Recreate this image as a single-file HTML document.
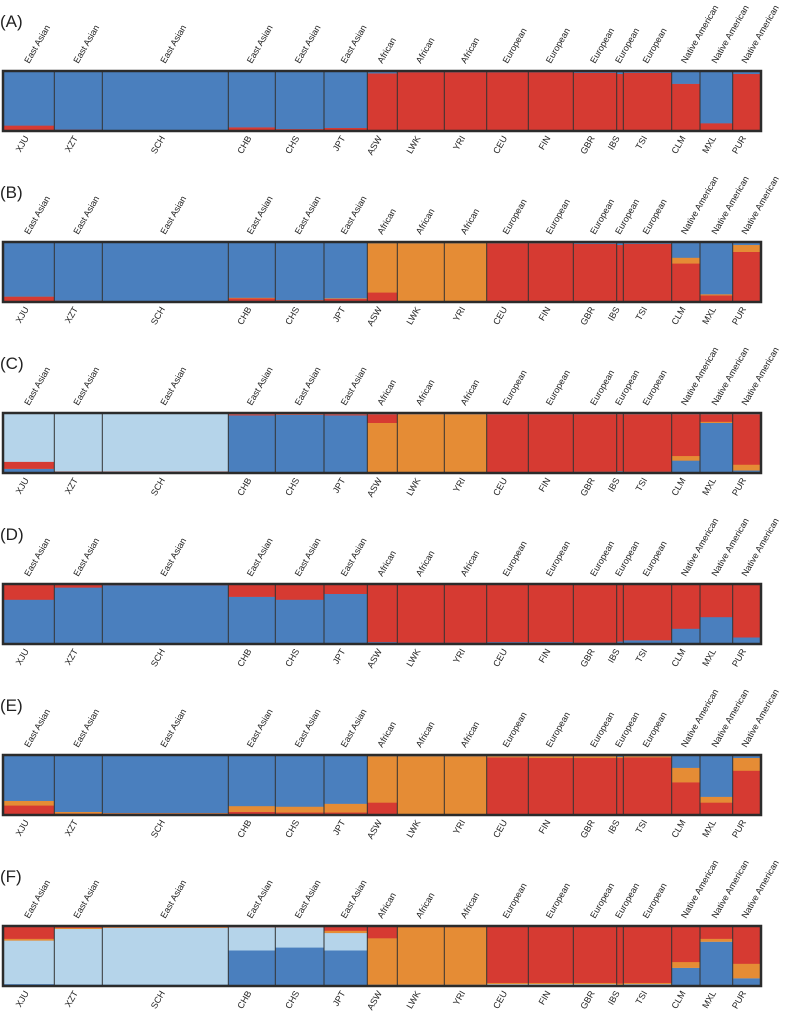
<!DOCTYPE html>
<html><head><meta charset="utf-8"><style>
body{margin:0;background:#fff}
svg{display:block;font-family:"Liberation Sans",sans-serif}
</style></head><body>
<svg id="c" width="787" height="1020" xmlns="http://www.w3.org/2000/svg"></svg>
<script>
const pops=["XJU","XZT","SCH","CHB","CHS","JPT","ASW","LWK","YRI","CEU","FIN","GBR","IBS","TSI","CLM","MXL","PUR"];
const groups=["East Asian","East Asian","East Asian","East Asian","East Asian","East Asian","African","African","African","European","European","European","European","European","Native American","Native American","Native American"];
const popBounds=[4,54.3,102.3,228.3,275.3,324,367.3,397.3,444.3,486.7,528.3,573.3,616.7,623.3,671.7,700,732.7,760];
const panelLetters=["(A)","(B)","(C)","(D)","(E)","(F)"];
const colors={blue:"#4a7fbe",light:"#b5d4ea",orange:"#e58c35",red:"#d63a32"};
const panelOrder=[
 ["red","blue"],
 ["red","orange","blue"],
 ["blue","orange","red","light"],
 ["blue","red"],
 ["red","orange","blue"],
 ["blue","light","orange","red"]
];
const A_red =[0.08,0.01,0.005,0.05,0.02,0.04,0.98,1,1,1,1,0.99,0.97,0.99,0.8,0.12,0.97];
const A_blue=[0.92,0.99,0.995,0.95,0.98,0.96,0.02,0,0,0,0,0.01,0.03,0.01,0.2,0.88,0.03];
const B_red =[0.08,0.01,0.005,0.05,0.02,0.04,0.15,0,0,1,1,0.99,0.97,0.99,0.65,0.1,0.85];
const B_orange=[0,0,0,0.01,0,0.01,0.85,1,1,0,0,0,0,0,0.1,0.02,0.12];
const B_blue=[0.92,0.99,0.995,0.94,0.98,0.95,0,0,0,0,0,0.01,0.03,0.01,0.25,0.88,0.03];
const C_blue=[0.06,0.01,0.01,0.98,0.99,0.98,0,0,0,0,0,0.01,0.02,0.01,0.2,0.85,0.03];
const C_orange=[0,0,0,0,0,0,0.85,1,1,0,0,0,0,0,0.08,0.02,0.1];
const C_red=[0.12,0.005,0.005,0.02,0.01,0.02,0.15,0,0,1,1,0.99,0.98,0.99,0.72,0.13,0.87];
const C_light=[0.82,0.985,0.985,0,0,0,0,0,0,0,0,0,0,0,0,0,0];
const D_blue=[0.75,0.96,1,0.8,0.75,0.85,0.02,0.01,0.01,0.02,0.02,0.01,0.03,0.05,0.25,0.45,0.1];
const D_red=[0.25,0.04,0,0.2,0.25,0.15,0.98,0.99,0.99,0.98,0.98,0.99,0.97,0.95,0.75,0.55,0.9];
const E_red=[0.15,0.01,0.01,0.04,0.03,0.03,0.2,0,0,0.98,0.97,0.97,0.97,0.98,0.55,0.2,0.75];
const E_orange=[0.08,0.03,0.01,0.1,0.1,0.15,0.8,1,1,0.02,0.03,0.03,0.02,0.02,0.25,0.1,0.22];
const E_blue=[0.77,0.96,0.98,0.86,0.87,0.82,0,0,0,0,0,0,0.01,0,0.2,0.7,0.03];
const F_blue=[0.02,0.01,0.01,0.6,0.65,0.6,0.01,0.01,0.01,0,0,0,0,0.01,0.3,0.75,0.12];
const F_light=[0.75,0.96,0.98,0.4,0.35,0.3,0,0,0,0.02,0.02,0.02,0.01,0.01,0,0,0];
const F_orange=[0.03,0.02,0.01,0,0,0.04,0.8,0.99,0.99,0.02,0.02,0.02,0.02,0.02,0.1,0.05,0.25];
const F_red=[0.2,0.01,0,0,0,0.06,0.19,0,0,0.96,0.96,0.96,0.97,0.96,0.6,0.2,0.63];
const panelData=[[A_red,A_blue],[B_red,B_orange,B_blue],[C_blue,C_orange,C_red,C_light],[D_blue,D_red],[E_red,E_orange,E_blue],[F_blue,F_light,F_orange,F_red]];

const NS="http://www.w3.org/2000/svg";
const svg=document.getElementById("c");
function mk(tag,attrs,parent){const e=document.createElementNS(NS,tag);for(const k in attrs)e.setAttribute(k,attrs[k]);(parent||svg).appendChild(e);return e;}
const boxTops=[70,241,412,583,754,925];
const boxH=62;
panelData.forEach((comps,p)=>{
  const top=boxTops[p];
  const g=mk("g",{});
  
  
  const lt=mk("text",{x:0,y:top-43,"font-size":17,fill:"#222"},g);
  lt.textContent=panelLetters[p];
  
  
  const y0=top+2,y1=top+boxH-2,h=y1-y0;
  pops.forEach((pop,i)=>{
    const xa=popBounds[i],xb=popBounds[i+1];
    let acc=0;
    comps.forEach((arr,k)=>{
      const v=arr[i];const tot=comps.reduce((s,a)=>s+a[i],0);
      const fh=v/tot*h;
      const r=mk("rect",{x:xa,y:y1-acc-fh,width:xb-xa,height:fh+0.3,fill:colors[panelOrder[p][k]]},g);
      
      
      acc+=fh;
    });
    if(i>0){const l=mk("line",{x1:xa,x2:xa,y1:y0,y2:y1,stroke:"#333","stroke-width":1},g);
      
      }
    const cx=(xa+xb)/2;
    const tt=mk("text",{x:cx,y:top-6,"font-size":9,fill:"#222",transform:`rotate(-60 ${cx} ${top-6})`},g);
    tt.textContent=groups[i];
    
    
    const bt=mk("text",{x:cx,y:top+boxH+6,"font-size":9,fill:"#222","text-anchor":"end",transform:`rotate(-60 ${cx} ${top+boxH+6})`},g);
    bt.textContent=pop;
    
    
  });
  const b=mk("rect",{x:3,y:top+1,width:758,height:boxH-2,fill:"none",stroke:"#2b2b2b","stroke-width":2.5},g);
  
  
});
</script>
</body></html>
